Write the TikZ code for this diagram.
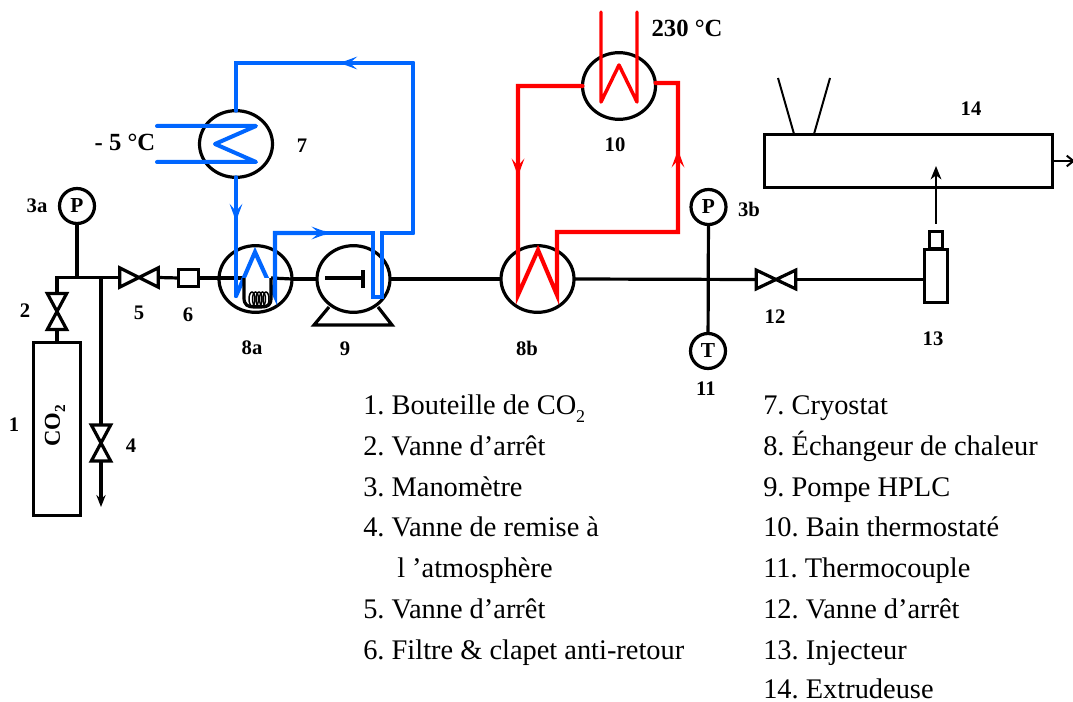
\documentclass[tikz,border=0pt]{standalone}
\usepackage{fontspec}
\setmainfont{Liberation Serif}
\usetikzlibrary{arrows.meta,shapes.geometric,decorations.markings}
\definecolor{pipeblue}{RGB}{0,102,255}
\definecolor{pipered}{RGB}{255,0,0}
\newcommand{\subtwo}{\raisebox{-.65ex}{\fontsize{13.5}{13.5}\selectfont 2}}
\newcommand{\subtwob}{\raisebox{-.5ex}{\fontsize{11.5}{11.5}\selectfont\bfseries 2}}
\newcommand{\numgap}{\ }
\tikzset{
  pipe/.style={draw=black,line width=2.4pt,line join=miter},
  thinline/.style={draw=black,line width=1.5pt},
  vessel/.style={ellipse,draw=black,line width=2.4pt,inner sep=0pt,outer sep=0pt,minimum width=54.75pt,minimum height=50pt},
  gauge/.style={circle,draw=black,line width=2.4pt,inner sep=0pt,outer sep=0pt,minimum size=26.25pt,font=\fontsize{16}{16}\selectfont\bfseries},
  part/.style={rectangle,draw=black,line width=2.4pt,inner sep=0pt,outer sep=0pt},
  valvebox/.style={rectangle,inner sep=0pt,outer sep=0pt},
  valveline/.style={draw=black,line width=2.4pt,line join=miter},
  bluepipe/.style={draw=pipeblue,line width=3.1pt,line join=miter,line cap=round},
  redpipe/.style={draw=pipered,line width=3.1pt,line join=miter,line cap=round},
  coolant/.style={draw=pipeblue,line width=3pt,line join=round,line cap=round},
  heatant/.style={draw=pipered,line width=2.6pt,line join=round,line cap=round},
  tag/.style={font=\fontsize{15.5}{15.5}\selectfont\bfseries,inner sep=0pt},
  temp/.style={font=\fontsize{18.5}{18.5}\selectfont\bfseries,inner sep=0pt},
  item/.style={font=\fontsize{21.3}{21.3}\selectfont,anchor=base west,inner sep=0pt},
  barbtip/.tip={Stealth[length=13pt,width=9.5pt,inset=5.5pt]},
  arrowat/.style={postaction={decorate},decoration={markings,mark=at position #1 with {\arrow{barbtip}}}},
}
\begin{document}
\begin{tikzpicture}[x=0.75pt,y=-0.75pt]
\useasboundingbox (0,0) rectangle (1073,702);
% cylinder and left valves
\node[part,minimum width=35pt,minimum height=130pt] (bottle) at (57,429) {};
\node[rotate=90,font=\fontsize{17}{17}\selectfont\bfseries,inner sep=0pt] (co2) at (55,426) {CO\subtwob};
\node[valvebox,minimum width=14.5pt,minimum height=27pt] (v2) at (57,311.5) {};
\node[valvebox,minimum width=14.5pt,minimum height=27pt] (v4) at (101,443) {};
\node[valvebox,minimum width=29pt,minimum height=14.5pt] (v5) at (139,277.5) {};
\node[part,minimum width=14.5pt,minimum height=13pt] (f6) at (188.5,278) {};
\node[valvebox,minimum width=29.5pt,minimum height=14pt] (v12) at (776,279.5) {};
\draw[valveline] (v2.south west) -- (v2.north east) -- (v2.north west) -- (v2.south east) -- cycle;
\draw[valveline] (v4.south west) -- (v4.north east) -- (v4.north west) -- (v4.south east) -- cycle;
\draw[valveline] (v5.south west) -- (v5.north east) -- (v5.south east) -- (v5.north west) -- cycle;
\draw[valveline] (v12.south west) -- (v12.north east) -- (v12.south east) -- (v12.north west) -- cycle;
% gauges
\node[gauge] (p3a) at (77,206) {P};
\node[gauge] (p3b) at (708.5,207) {P};
\node[gauge] (t11) at (708,351) {T};
% exchangers
\node[vessel] (c7) at (236,144) {};
\node[vessel] (e8a) at (255.5,279) {};
\node[vessel] (pump) at (353.5,279) {};
\node[vessel] (e8b) at (537.5,279) {};
\node[vessel] (b10) at (619,86) {};
% junction coordinates
\coordinate (j1) at (77,277.5);
\coordinate (j2) at (57,277.5);
\coordinate (j4) at (101,277.5);
\coordinate (end4) at (101,507);
\coordinate (ustartl) at (244,278);
\coordinate (ustartr) at (271,278);
\coordinate (pshaft) at (325,278);
\coordinate (pbar) at (363,278);
% black lines
\draw[pipe] (p3a) -- (j1);
\draw[pipe] (v5.west) -- (j2) -- (v2.north);
\draw[pipe] (v2.south) -- (bottle.north);
\draw[pipe] (j4) -- (v4.north);
\draw[pipe,-{Stealth[length=9pt,width=7pt,inset=3pt]}] (v4.south) -- (end4);
\draw[pipe] (v5.east) -- (f6.west);
\draw[pipe] (f6.east) -- (ustartl);
\draw[pipe] (ustartr) -- (e8a.east);
\draw[pipe] (e8a.east) -- (pump.west);
\draw[pipe] (pshaft) -- (pbar);
\draw[pipe] (363,270) -- (363,288);
\draw[pipe] (pump.east) -- (e8b.west);
\draw[pipe] (e8b.east) -- (v12.west);
\draw[pipe] (p3b) -- (t11);
% pump base
\draw[pipe] (329,307) -- (314,325) -- (392,325) -- (378,307);
% blue circuit
\draw[bluepipe,arrowat=0.37] (c7.south) -- (236,296);
\draw[bluepipe] (236,296) -- (255,252) -- (275,296) -- (275,233) -- (325,233);
\coordinate (bt) at (236,63);
\coordinate (br) at (413,63);
\coordinate (bb) at (413,233);
\draw[bluepipe,arrowat=0.326] (br) -- (bt) -- (c7.north);
\draw[bluepipe] (bb) -- (br);
\draw[bluepipe] (bb) -- (382,233) -- (382,297) -- (373,297) -- (373,233) -- (325,233);
\draw[bluepipe,arrowat=1] (275,233) -- (329,233);
% U of 8a
\draw[pipe,fill=white,line join=round] (ustartl) -- (244,298) .. controls (244,305) and (248,307) .. (254,307) -- (261,307) .. controls (268,307) and (271,305) .. (271,298) -- (ustartr);
\foreach \cx in {252,255.5,259,262.5,266}{\draw[black,line width=1.1pt] (\cx,299) ellipse (3 and 7);}
% coolant
\draw[coolant] (157,126) -- (256,126) -- (215,144) -- (256,162) -- (157,162);
% red circuit
\coordinate (rtl) at (518,86);
\coordinate (rbl) at (518,295);
\coordinate (rtr) at (678,83);
\coordinate (rbr) at (678,232);
\draw[redpipe] (b10.west) -- (rtl) -- (rbl) -- (538,250) -- (557,295) -- (557,232) -- (rbr) -- (rtr) -- (b10.east |- rtr);
\draw[redpipe,arrowat=1] (rtl) -- (518,176);
\draw[redpipe,arrowat=1] (rbr) -- (678,150);
\draw[heatant] (601,12) -- (601,102) -- (619,65) -- (637,102) -- (637,12);
% injector and extruder
\node[part,minimum width=17pt,minimum height=40pt] (inj) at (936,276) {};
\node[part,line width=1.9pt,minimum width=10pt,minimum height=13pt] (noz) at (936,240) {};
\node[part,minimum width=216pt,minimum height=40pt] (ext) at (908.5,161) {};
\draw[pipe] (v12.east) -- (v12.east -| inj.west);
\coordinate (arr13) at (936,224);
\coordinate (arr13e) at (936,166);
\draw[thinline,-{Stealth[length=10pt,width=8pt,inset=3pt]}] (arr13) -- (arr13e);
\coordinate (out14) at (1075,161);
\draw[thinline,-{Straight Barb[length=5pt,width=8pt]}] (ext.east) -- (out14);
\coordinate (f1) at (778,78);
\coordinate (f2) at (794,134);
\coordinate (f3) at (830,78);
\coordinate (f4) at (814,134);
\draw[thinline] (f1) -- (f2);
\draw[thinline] (f3) -- (f4);
% labels
\node[tag] (l1) at (14,425) {1};
\node[tag] (l2) at (25,311) {2};
\node[tag] (l3a) at (37,206) {3a};
\node[tag] (l3b) at (749,209) {3b};
\node[tag] (l4) at (131,446) {4};
\node[tag] (l5) at (139,313) {5};
\node[tag] (l6) at (188,315) {6};
\node[tag] (l7) at (302,146) {7};
\node[tag] (l8a) at (252,348) {8a};
\node[tag] (l9) at (345,349) {9};
\node[tag] (l8b) at (527,348) {8b};
\node[tag] (l10) at (615,145) {10};
\node[tag] (l11) at (706,389) {11};
\node[tag] (l12) at (775,317) {12};
\node[tag] (l13) at (933,339) {13};
\node[tag] (l14) at (971,109) {14};
\node[temp] (hot) at (687,28) {230 °C};
\node[temp] (cold) at (125,142) {- 5 °C};
% legend
\node[item] (i1) at (363,414) {1.\numgap Bouteille de CO\subtwo};
\node[item] (i2) at (363,455) {2.\numgap Vanne d’arrêt};
\node[item] (i3) at (363,496) {3.\numgap Manomètre};
\node[item] (i4) at (363,536) {4.\numgap Vanne de remise à};
\node[item] (i4b) at (397,577) {l ’atmosphère};
\node[item] (i5) at (363,618) {5.\numgap Vanne d’arrêt};
\node[item] (i6) at (363,659) {6.\numgap Filtre \& clapet anti-retour};
\node[item] (i7) at (763,414) {7.\numgap Cryostat};
\node[item] (i8) at (763,455) {8.\numgap Échangeur de chaleur};
\node[item] (i9) at (763,496) {9.\numgap Pompe HPLC};
\node[item] (i10) at (763,536) {10.\numgap Bain thermostaté};
\node[item] (i11) at (763,577) {11.\numgap Thermocouple};
\node[item] (i12) at (763,618) {12.\numgap Vanne d’arrêt};
\node[item] (i13) at (763,659) {13.\numgap Injecteur};
\node[item] (i14) at (763,698) {14.\numgap Extrudeuse};
\end{tikzpicture}
\end{document}
